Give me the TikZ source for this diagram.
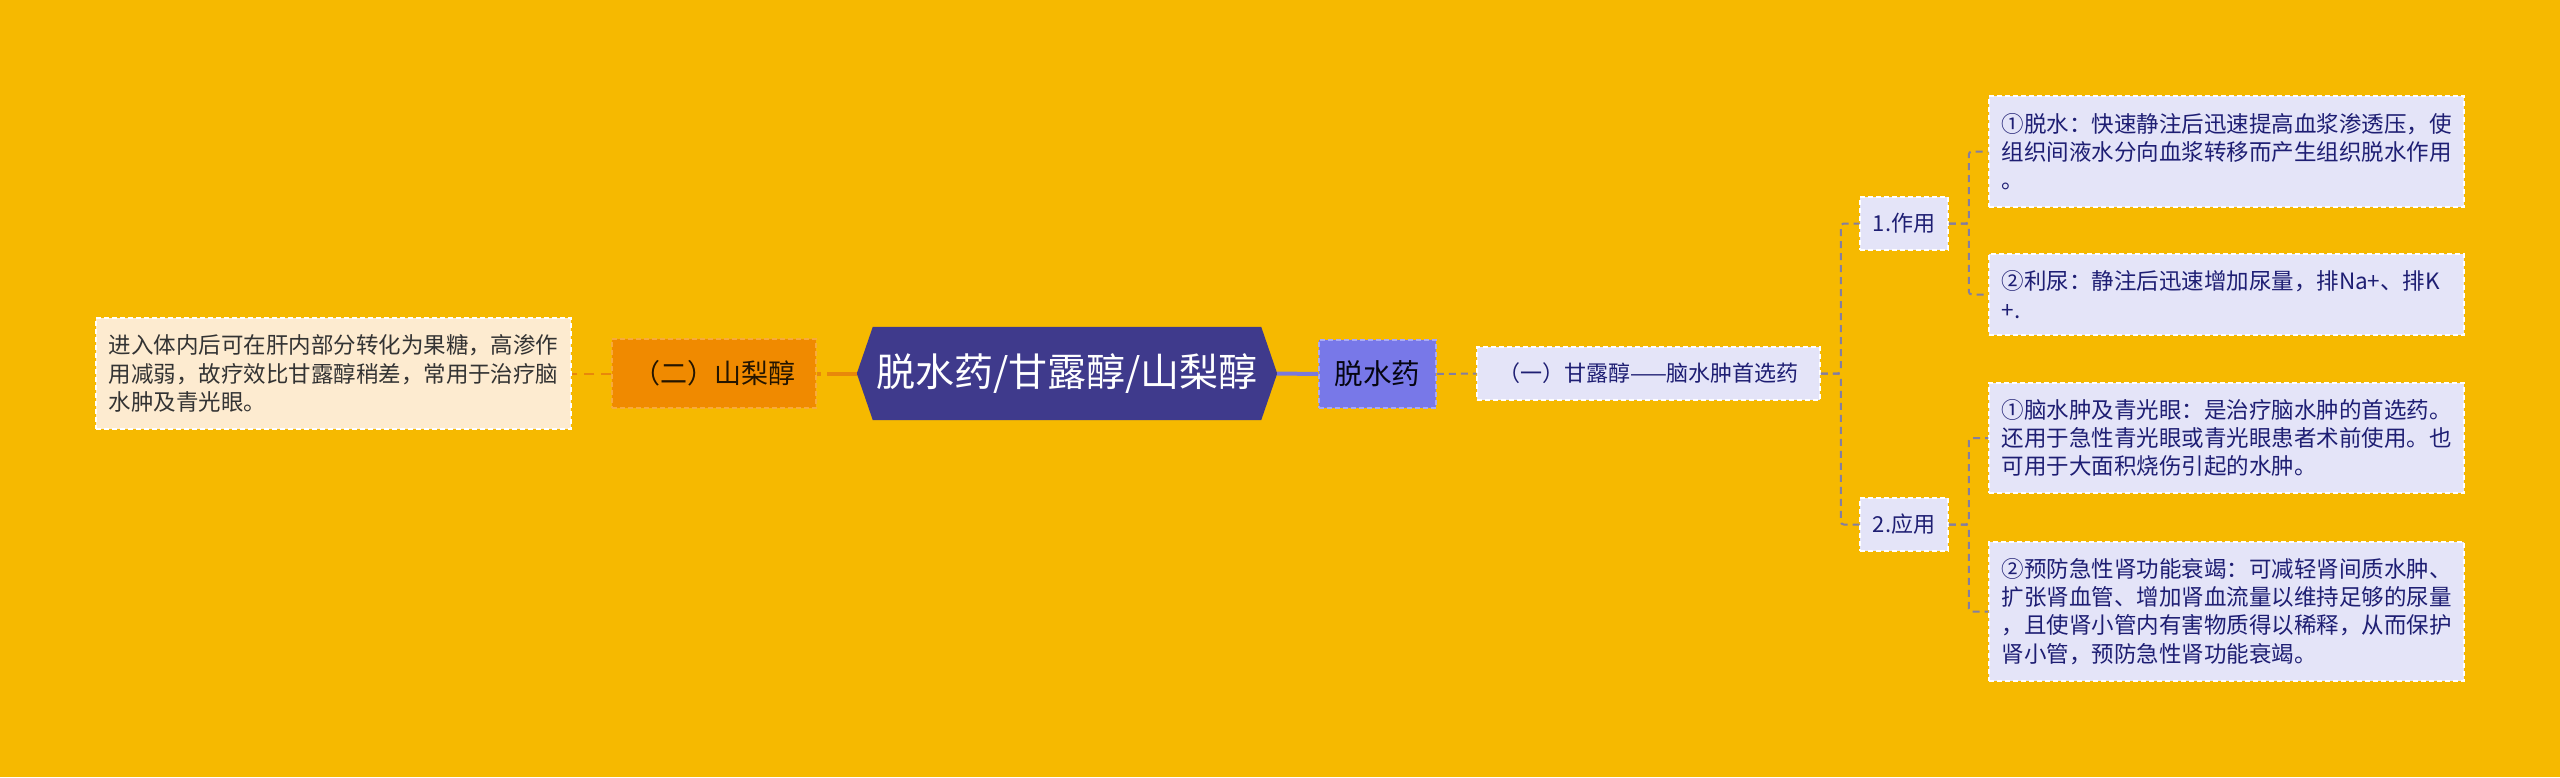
\documentclass[tikz,border=0pt]{standalone}
\usepackage{fontspec}
\setmainfont{Noto Sans CJK SC}
\usetikzlibrary{backgrounds}
\definecolor{bgc}{RGB}{246,185,0}
\definecolor{hexc}{RGB}{63,58,140}
\definecolor{slate}{RGB}{120,120,232}
\definecolor{slateb}{RGB}{170,170,245}
\definecolor{lav}{RGB}{228,228,248}
\definecolor{navy}{RGB}{30,30,115}
\definecolor{orn}{RGB}{240,138,0}
\definecolor{ornb}{RGB}{248,170,60}
\definecolor{ornline}{RGB}{232,136,10}
\definecolor{cream}{RGB}{253,235,208}
\definecolor{greyc}{RGB}{51,51,51}
\definecolor{connc}{RGB}{132,126,160}
\definecolor{blueline}{RGB}{122,120,222}
\tikzset{
  box/.style={rectangle, inner sep=0pt, dash pattern=on 5pt off 3pt, line width=1.5pt},
  leaf/.style={box, fill=lav, draw=white, text=navy, text width=450pt, inner xsep=12.5pt, align=left,
    font=\fontsize{22.5}{28.3}\selectfont},
  sub/.style={box, fill=lav, draw=white, text=navy, font=\fontsize{22}{26}\selectfont},
  conn/.style={draw=connc, line width=2pt, dash pattern=on 7pt off 5pt, rounded corners=3pt},
  orconn/.style={draw=ornline, line width=4pt, dash pattern=on 30pt off 6pt},
  orconnb/.style={draw=ornline, line width=2pt, dash pattern=on 10pt off 7pt},
  blconn/.style={draw=blueline, line width=4pt},
}
\begin{document}
\begin{tikzpicture}[x=1pt,y=-1pt]
\useasboundingbox (0,0) rectangle (2560,777);
% center
\node[inner sep=0pt, minimum width=420pt, minimum height=93pt, text=white,
  font=\fontsize{39}{44}\selectfont] (c) at (1067,373.5) {脱水药/甘露醇/山梨醇};
% right side
\node[box, fill=slate, draw=slateb, text=black!85!navy, minimum width=117pt, minimum height=68pt,
  font=\fontsize{28.5}{32}\selectfont] (tsy) at (1377.5,374) {脱水药};
\node[sub, minimum width=343pt, minimum height=53pt] (yi) at (1648.5,373.5) {（一）甘露醇——脑水肿首选药};
\node[sub, minimum width=88pt, minimum height=53pt] (n1) at (1904,223.5) {1.作用};
\node[sub, minimum width=88pt, minimum height=53pt] (n2) at (1904,524.5) {2.应用};
\node[leaf, minimum height=111pt] (l1) at (2226.5,151.5) {①脱水：快速静注后迅速提高血浆渗透压，使\\组织间液水分向血浆转移而产生组织脱水作用\\。};
\node[leaf, minimum height=81pt] (l2) at (2226.5,294.5) {②利尿：静注后迅速增加尿量，排Na+、排K\\+.};
\node[leaf, minimum height=110pt] (l3) at (2226.5,438) {①脑水肿及青光眼：是治疗脑水肿的首选药。\\还用于急性青光眼或青光眼患者术前使用。也\\可用于大面积烧伤引起的水肿。};
\node[leaf, minimum height=139pt] (l4) at (2226.5,611.5) {②预防急性肾功能衰竭：可减轻肾间质水肿、\\扩张肾血管、增加肾血流量以维持足够的尿量\\，且使肾小管内有害物质得以稀释，从而保护\\肾小管，预防急性肾功能衰竭。};
% left side
\node[box, fill=orn, draw=ornb, text=black!85!orn, minimum width=204pt, minimum height=69pt,
  font=\fontsize{27}{32}\selectfont] (sl) at (714,373.5) {（二）山梨醇};
\node[box, fill=cream, draw=white, text=greyc, text width=450pt, inner xsep=12.5pt, align=left,
  minimum height=111pt, font=\fontsize{22.5}{28.3}\selectfont] (ll) at (333.5,373.5)
  {进入体内后可在肝内部分转化为果糖，高渗作\\用减弱，故疗效比甘露醇稍差，常用于治疗脑\\水肿及青光眼。};
% background and hexagon
\begin{scope}[on background layer]
\fill[bgc] (0,0) rectangle (2560,777);
\fill[hexc] ([xshift=16pt]c.north west) -- ([xshift=-16pt]c.north east) -- (c.east)
  -- ([xshift=-16pt]c.south east) -- ([xshift=16pt]c.south west) -- (c.west) -- cycle;
\end{scope}
% connectors
\draw[blconn] (c.east) -- (tsy.west);
\draw[conn] (tsy.east) -- (yi.west);
\draw[conn] (yi.east) -- ++(20,0) |- (n1.west);
\draw[conn] (yi.east) -- ++(20,0) |- (n2.west);
\draw[conn] (n1.east) -- ++(20,0) |- (l1.west);
\draw[conn] (n1.east) -- ++(20,0) |- (l2.west);
\draw[conn] (n2.east) -- ++(20,0) |- (l3.west);
\draw[conn] (n2.east) -- ++(20,0) |- (l4.west);
\draw[orconn] (c.west) -- (sl.east);
\draw[orconnb] (sl.west) -- (ll.east);
\end{tikzpicture}
\end{document}
